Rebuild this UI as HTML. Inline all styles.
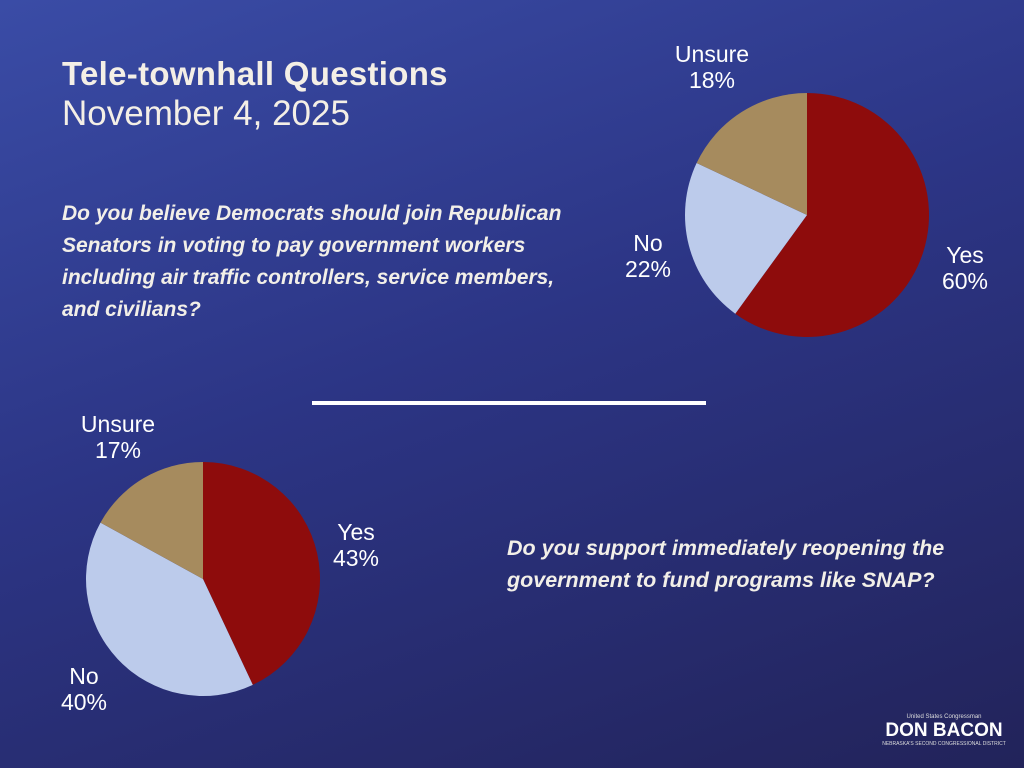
<!DOCTYPE html>
<html><head><meta charset="utf-8"><style>
body{margin:0}
#s{position:relative;width:1024px;height:768px;overflow:hidden;background:linear-gradient(160deg,#3a4ca6 0%,#2c3585 45%,#22235a 100%);font-family:"Liberation Sans",sans-serif;color:#fff}
.t{position:absolute;white-space:nowrap}
.q{font-style:italic;font-weight:bold;font-size:21px;line-height:32px;color:#f2efe8}
.lbl{position:absolute;font-size:23px;line-height:26px;text-align:center;color:#fff;transform:translate(-50%,-50%)}
</style></head><body>
<div id="s">
<div class="t" style="left:62px;top:55px;font-size:33px;font-weight:bold;color:#f4efe6;letter-spacing:0.3px">Tele-townhall Questions</div>
<div class="t" style="left:62px;top:94px;font-size:35px;color:#f4efe6">November 4, 2025</div>
<div class="t q" style="left:62px;top:198px">Do you believe Democrats should join Republican<br>Senators in voting to pay government workers<br>including air traffic controllers, service members,<br>and civilians?</div>
<div class="t q" style="left:507px;top:532px;font-size:21.5px">Do you support immediately reopening the<br>government to fund programs like SNAP?</div>
<div style="position:absolute;left:312px;top:401px;width:394px;height:4px;background:#fff"></div>
<svg id="pies" width="1024" height="768" style="position:absolute;left:0;top:0"></svg>
<div id="labels"></div>
<div class="t" style="left:884px;top:714px;width:120px;text-align:center;font-size:6px;color:#ddd">United States Congressman</div>
<div class="t" style="left:880px;top:720px;width:128px;text-align:center;font-size:19px;font-weight:bold;color:#fff">DON BACON</div>
<div class="t" style="left:880px;top:741px;width:128px;text-align:center;font-size:5px;color:#ddd">NEBRASKA'S SECOND CONGRESSIONAL DISTRICT</div>
</div>
<script>
const categories=["Yes","No","Unsure"];
const colors=["#8e0c0c","#bccbeb","#a68b5e"];
const q1Values=[60,22,18];
const q2Values=[43,40,17];
const pie1={cx:807,cy:215,r:122,labels:[[965,268],[648,256],[712,67]]};
const pie2={cx:203,cy:579,r:117,labels:[[356,545],[84,689],[118,437]]};
const svg=document.getElementById('pies');
const L=document.getElementById('labels');
function draw(vals,p,name){
  const tot=vals.reduce((a,b)=>a+b,0);let a0=0;
  vals.forEach((v,i)=>{
    const a1=a0+v/tot*2*Math.PI;
    const x0=p.cx+p.r*Math.sin(a0),y0=p.cy-p.r*Math.cos(a0);
    const x1=p.cx+p.r*Math.sin(a1),y1=p.cy-p.r*Math.cos(a1);
    const path=document.createElementNS('http://www.w3.org/2000/svg','path');
    path.setAttribute('d',`M${p.cx},${p.cy}L${x0},${y0}A${p.r},${p.r} 0 ${a1-a0>Math.PI?1:0} 1 ${x1},${y1}Z`);
    path.setAttribute('fill',colors[i]);
    
    
    svg.appendChild(path);
    const d=document.createElement('div');d.className='lbl';
    d.style.left=p.labels[i][0]+'px';d.style.top=p.labels[i][1]+'px';
    d.innerHTML=categories[i]+'<br>'+v+'%';
    
    
    L.appendChild(d);
    a0=a1;
  });
}
draw(q1Values,pie1,'pie1');
draw(q2Values,pie2,'pie2');
</script>
</body></html>
